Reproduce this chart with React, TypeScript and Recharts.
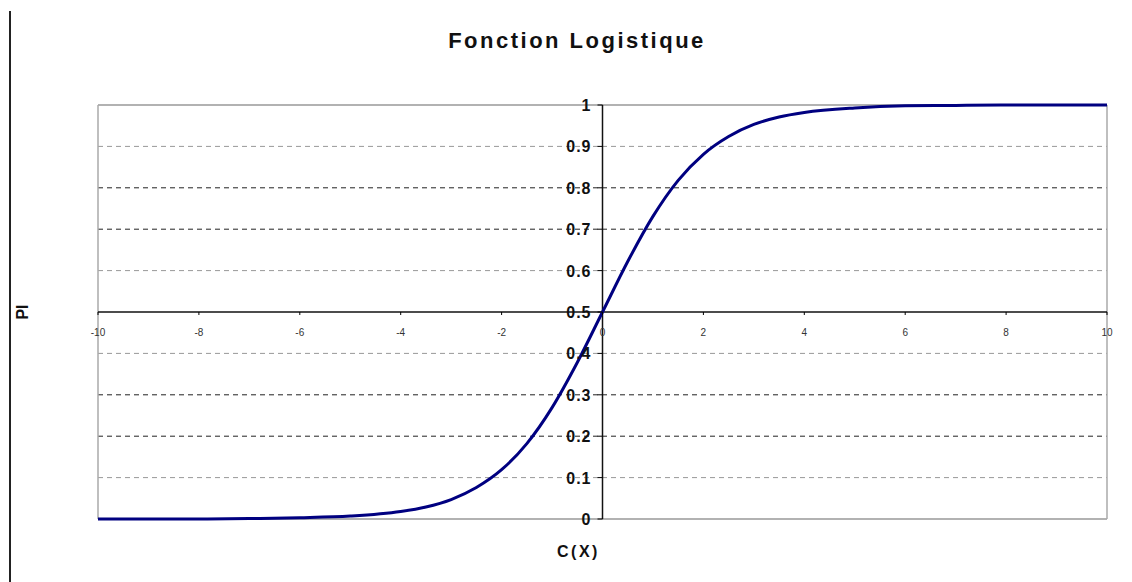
import React from "react";
import { LineChart, Line, XAxis, YAxis, ReferenceLine } from "recharts";

// values
const xValues = [-10, -9, -8, -7, -6, -5, -4, -3.5, -3, -2.5, -2, -1.5, -1, -0.5, 0, 0.5, 1, 1.5, 2, 2.5, 3, 3.5, 4, 5, 6, 7, 8, 9, 10];
const piValues = [0, 0, 0, 0.001, 0.003, 0.007, 0.018, 0.029, 0.047, 0.076, 0.119, 0.182, 0.269, 0.378, 0.5, 0.622, 0.731, 0.818, 0.881, 0.924, 0.953, 0.971, 0.982, 0.993, 0.998, 0.999, 1, 1, 1];

const xTicks = [-10, -8, -6, -4, -2, 0, 2, 4, 6, 8, 10];
const yTicks = [0, 0.1, 0.2, 0.3, 0.4, 0.5, 0.6, 0.7, 0.8, 0.9, 1];
const lightGrid = [0.1, 0.4, 0.6, 0.9];
const darkGrid = [0.2, 0.3, 0.7, 0.8];

const data = xValues.map((x, i) => ({ x, pi: piValues[i] }));

const W = 1132;
const H = 582;
const PLOT_H = 414;
const PLOT_W = 1009;
const FONT = "Liberation Sans, Arial, sans-serif";

const XTick = (props: any) => {
  const { x, y, payload } = props;
  const axisY = y - PLOT_H / 2;
  return (
    <g>
      <line x1={x} x2={x} y1={axisY} y2={axisY + 3} stroke="#000" />
      <text x={x} y={axisY + 24} textAnchor="middle" fontSize={10} fill="#333" fontFamily={FONT}>
        {payload.value}
      </text>
    </g>
  );
};

const YTick = (props: any) => {
  const { x, y, payload } = props;
  const axisX = x + PLOT_W / 2;
  return (
    <g>
      <line x1={axisX - 5} x2={axisX} y1={y} y2={y} stroke="#000" />
      <text x={axisX - 11} y={y + 6} textAnchor="end" fontSize={16} fontWeight="bold" letterSpacing={1} fill="#111" fontFamily={FONT}>
        {payload.value}
      </text>
    </g>
  );
};

export default function App() {
  return (
    <div style={{ position: "absolute", left: 0, top: 0, width: W, height: H, background: "#fff" }}>
      <div style={{ position: "absolute", left: 9, top: 11, width: 2, height: H - 11, background: "#222" }} />
      <div
        style={{
          position: "absolute",
          left: 0,
          width: 1154,
          top: 28,
          textAlign: "center",
          fontFamily: FONT,
          fontWeight: "bold",
          fontSize: 22,
          letterSpacing: 2.5,
          color: "#111",
        }}
      >
        Fonction Logistique
      </div>
      <LineChart width={W} height={H} data={data} margin={{ top: 105, right: 25, bottom: 0, left: 0 }}>
        <XAxis
          type="number"
          dataKey="x"
          domain={[-10, 10]}
          ticks={xTicks}
          tick={<XTick />}
          tickSize={0}
          tickMargin={0}
          axisLine={false}
          tickLine={false}
          height={63}
          interval={0}
          label={{
            content: ({ viewBox }: any) => (
              <text
                x={viewBox.x + viewBox.width / 2 - 24}
                y={viewBox.y + 38}
                textAnchor="middle"
                fontSize={16}
                fontWeight="bold"
                letterSpacing={2.5}
                fill="#111"
                fontFamily={FONT}
              >
                C(X)
              </text>
            ),
          }}
        />
        <YAxis
          type="number"
          domain={[0, 1]}
          ticks={yTicks}
          tick={<YTick />}
          tickSize={0}
          tickMargin={0}
          axisLine={false}
          tickLine={false}
          width={98}
          interval={0}
          label={{
            content: ({ viewBox }: any) => {
              const cy = viewBox.y + viewBox.height / 2;
              return (
                <text
                  x={28}
                  y={cy}
                  transform={`rotate(-90, 28, ${cy})`}
                  textAnchor="middle"
                  fontSize={16}
                  fontWeight="bold"
                  fill="#111"
                  fontFamily={FONT}
                >
                  PI
                </text>
              );
            },
          }}
        />
        {lightGrid.map((v) => (
          <ReferenceLine key={`l${v}`} y={v} stroke="#999" strokeDasharray="5 4" />
        ))}
        {darkGrid.map((v) => (
          <ReferenceLine key={`d${v}`} y={v} stroke="#222" strokeDasharray="5 4" />
        ))}
        <ReferenceLine y={1} stroke="#999" strokeWidth={1.5} />
        <ReferenceLine y={0} stroke="#999" strokeWidth={1.5} />
        <ReferenceLine x={-10} stroke="#aaa" strokeWidth={1.5} />
        <ReferenceLine x={10} stroke="#aaa" strokeWidth={1.5} />
        <ReferenceLine y={0.5} stroke="#111" strokeWidth={1.5} />
        <ReferenceLine x={0} stroke="#111" strokeWidth={1.5} />
        <Line
          type="monotone"
          dataKey="pi"
          stroke="#000080"
          strokeWidth={3}
          dot={false}
          isAnimationActive={false}
        />
      </LineChart>
    </div>
  );
}
